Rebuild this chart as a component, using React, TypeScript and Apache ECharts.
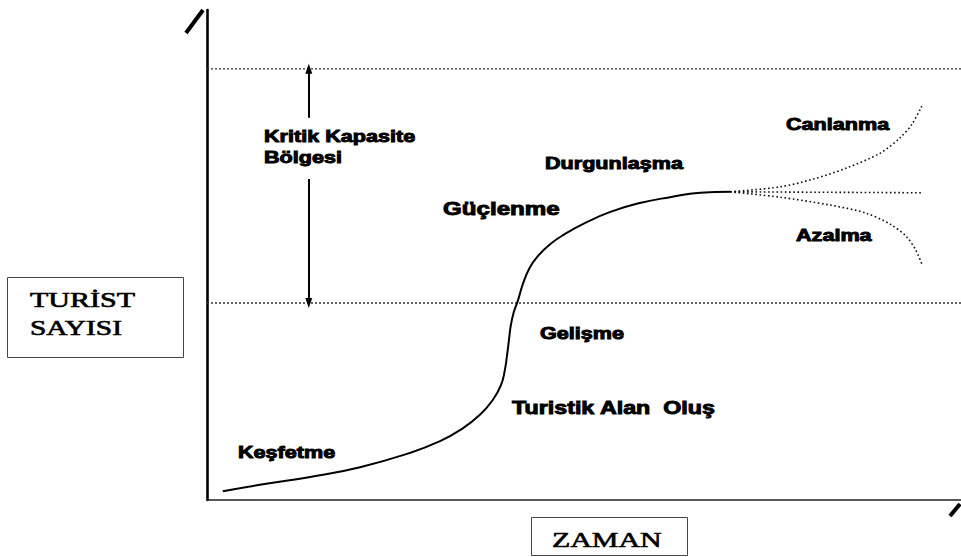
import React, { useEffect, useRef } from "react";
import * as echarts from "echarts";

// Main life-cycle curve (time, tourist count), axis range 0..100
const mainTime = [2.1, 7.0, 13.7, 20.3, 26.9, 30.9, 33.6, 36.2, 37.9, 39.0, 39.5, 39.8, 40.05, 40.3, 40.7, 41.25, 41.9, 42.8, 43.9, 45.5, 47.5, 50.1, 53.5, 57.4, 61.4, 65.4, 69.4];
const mainTourists = [1.8, 3.1, 4.7, 6.7, 9.6, 12.0, 14.3, 17.4, 20.4, 23.5, 26.5, 29.6, 32.7, 35.7, 38.4, 40.8, 44.1, 47.4, 49.8, 52.2, 54.3, 56.5, 58.8, 60.6, 61.8, 62.7, 62.9];

// Post-stagnation branches
const revivalTime = [69.4, 76.0, 80.4, 84.9, 89.3, 91.9, 93.5, 94.8];
const revivalTourists = [62.9, 63.9, 65.5, 67.8, 70.8, 73.9, 76.7, 80.4];
const stableTime = [69.4, 94.8];
const stableTourists = [62.9, 62.7];
const declineTime = [69.4, 76.0, 82.6, 87.3, 90.6, 92.8, 94.0, 94.8];
const declineTourists = [62.9, 61.8, 60.2, 58.6, 56.3, 53.7, 51.0, 48.2];

// Critical capacity zone
const capacityLevels = [88, 40.2];
const arrowTime = 13.5;
const arrowUpper = [78, 88];
const arrowLower = [65.5, 40.2];

const stageLabels = ["Keşfetme", "Turistik Alan  Oluş", "Gelişme", "Güçlenme", "Durgunlaşma", "Canlanma", "Azalma"];
const zoneLabel = ["Kritik Kapasite", "Bölgesi"];
const axisNames = ["TURİST", "SAYISI", "ZAMAN"];

const zip = (a: number[], b: number[]) => a.map((v, i) => [v, b[i]]);

export default function App() {
  const ref = useRef<HTMLDivElement>(null);
  useEffect(() => {
    document.body.style.margin = "0";
    const chart = echarts.init(ref.current!, null, { renderer: "svg" });
    const sans = "bold 16px 'Liberation Sans', Arial, sans-serif";
    const sansL = "bold 17.5px 'Liberation Sans', Arial, sans-serif";
    const serif = "20px 'Liberation Serif', 'Times New Roman', serif";
    const label = (text: string, x: number, y: number, font = sans, sx = 1.35, sw = 0.9) => ({
      type: "text",
      x,
      y,
      scaleX: sx,
      z: 10,
      style: {
        text,
        font,
        fill: "#000",
        stroke: "#000",
        lineWidth: sw,
        textAlign: "left",
        textVerticalAlign: "middle",
        align: "left",
        verticalAlign: "middle",
      },
    });
    const dotted = { color: "#111", width: 1.6, type: [1.6, 2.6] as any };
    chart.setOption({
      animation: false,
      backgroundColor: "#fff",
      grid: { left: 207, right: 0, top: 10, bottom: 57 },
      xAxis: {
        type: "value",
        min: 0,
        max: 100,
        axisLine: { show: true, onZero: false, lineStyle: { color: "#222", width: 1.6 } },
        axisTick: { show: false },
        axisLabel: { show: false },
        splitLine: { show: false },
      },
      yAxis: {
        type: "value",
        min: 0,
        max: 100,
        axisLine: { show: true, onZero: false, lineStyle: { color: "#000", width: 2.6 } },
        axisTick: { show: false },
        axisLabel: { show: false },
        splitLine: { show: false },
      },
      series: [
        {
          type: "line",
          data: [[0, capacityLevels[0]], [100, capacityLevels[0]]],
          symbol: "none",
          lineStyle: { color: "#333", width: 1.3, type: [2, 2] },
          markLine: {
            silent: true,
            symbol: ["none", "triangle"],
            symbolSize: [7, 10],
            label: { show: false },
            lineStyle: { color: "#000", width: 2, type: "solid" },
            data: [
              [{ coord: [arrowTime, arrowUpper[0]] }, { coord: [arrowTime, arrowUpper[1]] }],
              [{ coord: [arrowTime, arrowLower[0]] }, { coord: [arrowTime, arrowLower[1]] }],
            ],
          },
        },
        {
          type: "line",
          data: [[0, capacityLevels[1]], [100, capacityLevels[1]]],
          symbol: "none",
          lineStyle: { color: "#333", width: 1.3, type: [2, 2] },
        },
        {
          type: "line",
          data: zip(mainTime, mainTourists),
          symbol: "none",
          smooth: 0.5,
          lineStyle: { color: "#000", width: 2 },
          z: 5,
        },
        { type: "line", data: zip(revivalTime, revivalTourists), symbol: "none", smooth: 0.3, lineStyle: dotted },
        { type: "line", data: zip(stableTime, stableTourists), symbol: "none", lineStyle: dotted },
        { type: "line", data: zip(declineTime, declineTourists), symbol: "none", smooth: 0.3, lineStyle: dotted },
      ],
      graphic: [
        { type: "line", shape: { x1: 186, y1: 33, x2: 203, y2: 10 }, style: { stroke: "#000", lineWidth: 4 } },
        { type: "line", shape: { x1: 950, y1: 516, x2: 960, y2: 504 }, style: { stroke: "#000", lineWidth: 4 } },
        { type: "rect", shape: { x: 7.5, y: 277.5, width: 176, height: 80 }, style: { fill: "none", stroke: "#444", lineWidth: 1 } },
        { type: "rect", shape: { x: 531.5, y: 517.5, width: 156, height: 38 }, style: { fill: "none", stroke: "#444", lineWidth: 1 } },
        label(zoneLabel[0], 264, 137),
        label(zoneLabel[1], 264, 158),
        label(stageLabels[0], 238, 453),
        label(stageLabels[1], 512, 408, sansL, 1.33),
        label(stageLabels[2], 540, 334),
        label(stageLabels[3], 443, 209, sansL, 1.38),
        label(stageLabels[4], 545, 164),
        label(stageLabels[5], 786, 125),
        label(stageLabels[6], 796, 236),
        label(axisNames[0], 30, 300, serif, 1.5, 0.6),
        label(axisNames[1], 30, 328, serif, 1.47, 0.6),
        label(axisNames[2], 552, 540, "22px 'Liberation Serif', 'Times New Roman', serif", 1.36, 0.6),
      ],
    });
    return () => chart.dispose();
  }, []);
  return <div ref={ref} style={{ width: 961, height: 557 }} />;
}
